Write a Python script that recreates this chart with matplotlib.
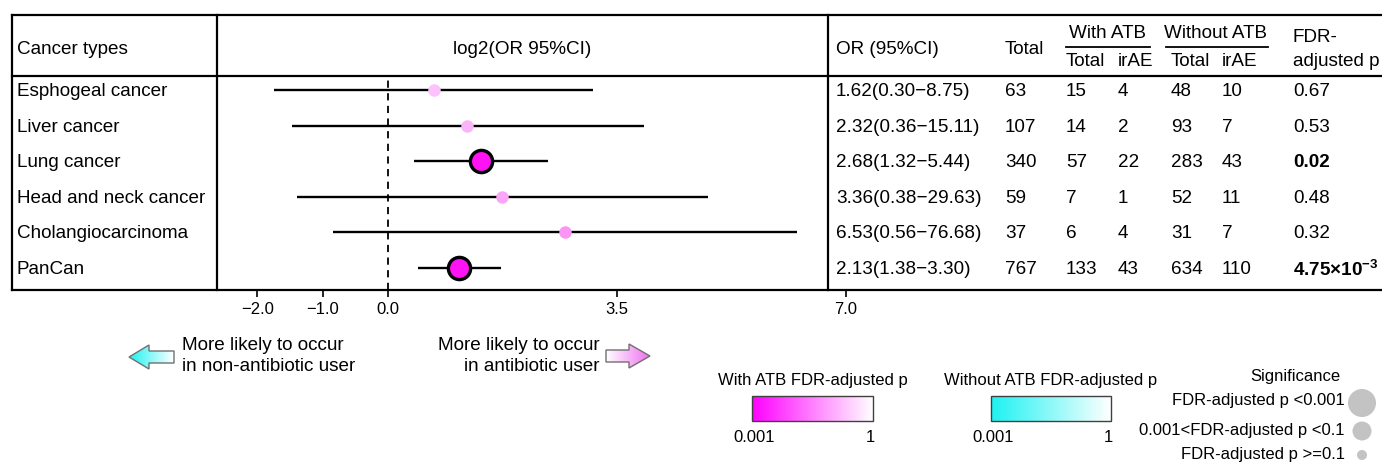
import numpy as np
import matplotlib
matplotlib.use("Agg")
import matplotlib.pyplot as plt
from matplotlib.colors import LinearSegmentedColormap
from matplotlib.patches import Polygon, Rectangle, Circle
from matplotlib.transforms import blended_transform_factory

plt.rcParams['font.family'] = ['Liberation Sans', 'DejaVu Sans']
plt.rcParams['mathtext.fontset'] = 'custom'
plt.rcParams['mathtext.rm'] = 'Liberation Sans'
plt.rcParams['mathtext.bf'] = 'Liberation Sans:bold'

# ---------------- data ----------------
cancer_types = ["Esphogeal cancer", "Liver cancer", "Lung cancer",
                "Head and neck cancer", "Cholangiocarcinoma", "PanCan"]
odds_ratio = [1.62, 2.32, 2.68, 3.36, 6.53, 2.13]
ci_low = [0.30, 0.36, 1.32, 0.38, 0.56, 1.38]
ci_high = [8.75, 15.11, 5.44, 29.63, 76.68, 3.30]
total = [63, 107, 340, 59, 37, 767]
with_total = [15, 14, 57, 7, 6, 133]
with_irae = [4, 2, 22, 1, 4, 43]
without_total = [48, 93, 283, 52, 31, 634]
without_irae = [10, 7, 43, 11, 7, 110]
fdr_p = [0.67, 0.53, 0.02, 0.48, 0.32, 0.00475]
fdr_text = ["0.67", "0.53", "0.02", "0.48", "0.32", r"$\mathbf{4.75{\times}10^{-3}}$"]
x_ticks = [-2.0, -1.0, 0.0, 3.5, 7.0]
x_ticklabels = ["\u22122.0", "\u22121.0", "0.0", "3.5", "7.0"]

# point fill colours (style)
point_colors = ['#fcc2fb', '#fbb3f9', '#ff12f4', '#fba5f8', '#fa94f5', '#ff12f4']

W, H = 1382, 462
fig = plt.figure(figsize=(W / 100, H / 100), dpi=100)

# overlay axes in pixel coordinates
ax0 = fig.add_axes([0, 0, 1, 1])
ax0.set_xlim(0, W)
ax0.set_ylim(H, 0)
ax0.axis('off')

# forest axes
top_px, bot_px = 76, 290
left_px, right_px = 217, 846
x_zero_px, px_per_unit = 388, 65.4
row0_px, row_step = 90, 35.6
ax = fig.add_axes([left_px / W, (H - bot_px) / H, (right_px - left_px) / W, (bot_px - top_px) / H])
ax.set_xlim((left_px - x_zero_px) / px_per_unit, (right_px - x_zero_px) / px_per_unit)
ax.set_ylim((bot_px - row0_px) / row_step, (top_px - row0_px) / row_step)
ax.patch.set_visible(False)
for s in ax.spines.values():
    s.set_visible(False)
ax.set_yticks([])
ax.set_xticks(x_ticks)
ax.set_xticklabels(x_ticklabels, fontsize=12)
ax.tick_params(axis='x', length=5, width=1.2, pad=3.5, direction='out')

n = len(cancer_types)
rows = np.arange(n)
log_or = np.log2(odds_ratio)
log_lo = np.log2(ci_low)
log_hi = np.log2(ci_high)

ax.axvline(0, ymin=0, ymax=0.99, color='black', lw=1.3, ls=(0, (4, 3)), zorder=1)
ax.hlines(rows, log_lo, log_hi, color='black', lw=1.7, zorder=2)
for i in range(n):
    if fdr_p[i] < 0.1:
        ax.plot(log_or[i], rows[i], 'o', ms=16, mfc=point_colors[i], mec='black', mew=2.4, zorder=3)
    else:
        ax.plot(log_or[i], rows[i], 'o', ms=9, mfc=point_colors[i], mec='none', zorder=3)

# ---------------- table ----------------
lw_tab = 1.6
ax0.plot([12, W], [15, 15], color='black', lw=lw_tab)
ax0.plot([12, W], [top_px, top_px], color='black', lw=lw_tab)
ax0.plot([12, W], [bot_px, bot_px], color='black', lw=lw_tab)
ax0.plot([12, 12], [15, bot_px], color='black', lw=lw_tab)
ax0.plot([217, 217], [15, bot_px], color='black', lw=lw_tab)
ax0.plot([828, 828], [15, bot_px], color='black', lw=lw_tab)

fs = 13.6
ax0.text(17, 49, "Cancer types", fontsize=fs, va='center', ha='left')
ax0.text(522, 49, "log2(OR 95%CI)", fontsize=fs, va='center', ha='center')
ax0.text(836, 49, "OR (95%CI)", fontsize=fs, va='center', ha='left')
ax0.text(1005, 49, "Total", fontsize=fs, va='center', ha='left')
ax0.text(1108, 34, "With ATB", fontsize=fs, va='center', ha='center')
ax0.plot([1066, 1150], [47, 47], color='black', lw=1.3)
ax0.text(1216, 34, "Without ATB", fontsize=fs, va='center', ha='center')
ax0.plot([1166, 1268], [47, 47], color='black', lw=1.3)
ax0.text(1066, 62, "Total", fontsize=fs, va='center', ha='left')
ax0.text(1118, 62, "irAE", fontsize=fs, va='center', ha='left')
ax0.text(1171, 62, "Total", fontsize=fs, va='center', ha='left')
ax0.text(1222, 62, "irAE", fontsize=fs, va='center', ha='left')
ax0.text(1293, 38, "FDR-", fontsize=fs, va='center', ha='left')
ax0.text(1293, 62, "adjusted p", fontsize=fs, va='center', ha='left')

tr = blended_transform_factory(ax0.transData, ax.transData)
dy = 1.5 / row_step
for i in range(n):
    y = rows[i] + dy
    ax0.text(17, y, cancer_types[i], transform=tr, fontsize=fs, va='center')
    ax0.text(836, y, f"{odds_ratio[i]:.2f}({ci_low[i]:.2f}\u2212{ci_high[i]:.2f})",
             transform=tr, fontsize=fs, va='center')
    ax0.text(1005, y, str(total[i]), transform=tr, fontsize=fs, va='center')
    ax0.text(1066, y, str(with_total[i]), transform=tr, fontsize=fs, va='center')
    ax0.text(1118, y, str(with_irae[i]), transform=tr, fontsize=fs, va='center')
    ax0.text(1171, y, str(without_total[i]), transform=tr, fontsize=fs, va='center')
    ax0.text(1222, y, str(without_irae[i]), transform=tr, fontsize=fs, va='center')
    ax0.text(1293, y, fdr_text[i], transform=tr, fontsize=fs, va='center',
             fontweight='bold' if fdr_p[i] < 0.05 else 'normal')

# ---------------- arrows ----------------
cyan_cmap = LinearSegmentedColormap.from_list('cy', ['#1ef2f2', '#ffffff'])
mag_cmap = LinearSegmentedColormap.from_list('mg', ['#ff00ff', '#ffffff'])
arrow_r_cmap = LinearSegmentedColormap.from_list('ar', ['#ffffff', '#f070f0'])
grad = np.linspace(0, 1, 256).reshape(1, -1)


def grad_arrow(pts, cmap):
    poly = Polygon(pts, closed=True, fc='none', ec='#707070', lw=1.0, zorder=5)
    ax0.add_patch(poly)
    xs = [p[0] for p in pts]
    ys = [p[1] for p in pts]
    im = ax0.imshow(grad, cmap=cmap, extent=[min(xs), max(xs), max(ys), min(ys)],
                    aspect='auto', zorder=4, interpolation='bilinear')
    im.set_clip_path(poly)


cy_l = 357
grad_arrow([(129, cy_l), (149, cy_l - 12), (149, cy_l - 6), (174, cy_l - 6),
            (174, cy_l + 6), (149, cy_l + 6), (149, cy_l + 12)], cyan_cmap)
cy_r = 356
grad_arrow([(606, cy_r - 6), (629, cy_r - 6), (629, cy_r - 12), (650, cy_r),
            (629, cy_r + 12), (629, cy_r + 6), (606, cy_r + 6)], arrow_r_cmap)

ax0.text(182, 356, "More likely to occur\nin non-antibiotic user", fontsize=13.6,
         ha='left', va='center', linespacing=1.3)
ax0.text(600, 356, "More likely to occur\nin antibiotic user", fontsize=13.6,
         ha='right', va='center', linespacing=1.3, multialignment='right')

# ---------------- colour bars ----------------
def colour_box(x0, x1, title, cmap):
    y0, y1 = 396, 421
    ax0.imshow(grad, cmap=cmap, extent=[x0, x1, y1, y0], aspect='auto', zorder=4,
               interpolation='bilinear')
    ax0.add_patch(Rectangle((x0, y0), x1 - x0, y1 - y0, fc='none', ec='#404040', lw=1.0, zorder=5))
    ax0.text((x0 + x1) / 2, 381, title, fontsize=12, ha='center', va='center')
    ax0.text(x0 + 2, 437, "0.001", fontsize=12, ha='center', va='center')
    ax0.text(x1 - 3, 437, "1", fontsize=12, ha='center', va='center')


colour_box(752, 873, "With ATB FDR-adjusted p", mag_cmap)
colour_box(991, 1111, "Without ATB FDR-adjusted p", cyan_cmap)

# ---------------- significance legend ----------------
ax0.text(1295, 376, "Significance", fontsize=12, ha='center', va='center')
sig_labels = ["FDR-adjusted p <0.001", "0.001<FDR-adjusted p <0.1", "FDR-adjusted p >=0.1"]
sig_y = [403, 431, 455]
sig_r = [14, 9.5, 5]
for lab, yy, rr in zip(sig_labels, sig_y, sig_r):
    ax0.text(1345, yy - 3 if rr > 10 else yy, lab, fontsize=12, ha='right', va='center')
    ax0.add_patch(Circle((1362, yy), rr, fc='#c3c3c3', ec='none', zorder=5))

ax0.set_xlim(0, W)
ax0.set_ylim(H, 0)
fig.savefig("out.png", dpi=100)
